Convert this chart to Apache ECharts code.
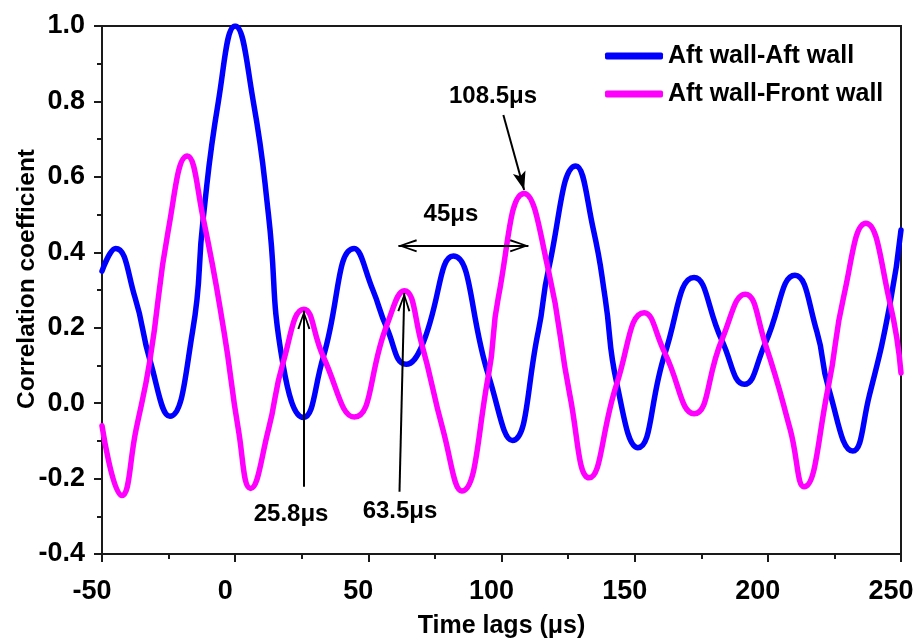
<!DOCTYPE html>
<html>
<head>
<meta charset="utf-8">
<script src="https://cdn.jsdelivr.net/npm/echarts@6/dist/echarts.min.js"></script>
<style>
  html, body { margin: 0; padding: 0; background: #fff; }
  #chart { width: 916px; height: 643px; }
</style>
</head>
<body>
<div id="chart"></div>
<script>
// Time lags (μs) and correlation values for each wall pair
const aftAftLag = [-50, -44.9, -37.6, -32, -24.5, -16, -12, -6.3, 0, 6.8, 12.5, 17.9, 25.6, 33.1, 44.7, 51.7, 56.9, 64.2, 70, 81.9, 95.1, 104.1, 113.8, 117.6, 127.9, 134.5, 138.9, 143.3, 151.2, 161.4, 172.3, 182.7, 191.2, 199, 210.2, 218.4, 222.7, 231.9, 238.1, 245.9, 250];
const aftAftCorr = [0.35, 0.41, 0.28, 0.114, -0.035, 0.19, 0.49, 0.8, 1.0, 0.8, 0.5, 0.105, -0.038, 0.123, 0.41, 0.30, 0.2, 0.103, 0.15, 0.39, 0.074, -0.099, 0.19, 0.353, 0.629, 0.46, 0.28, 0.052, -0.118, 0.132, 0.333, 0.167, 0.05, 0.158, 0.339, 0.19, 0.043, -0.127, 0.02, 0.264, 0.459];

const aftFrontLag = [-50, -42.6, -37.2, -32, -25.1, -18, -12, -4.2, 1.2, 5.8, 12.5, 17.9, 25.8, 33.1, 44.7, 56.9, 63.5, 70, 78, 85.1, 95.1, 98.8, 108.5, 117.6, 125.7, 132.9, 143.3, 153.6, 161.4, 172.3, 182.7, 191.5, 199, 208.4, 213.6, 222.7, 228.4, 236.8, 245.9, 250];
const aftFrontCorr = [-0.06, -0.245, -0.07, 0.114, 0.459, 0.655, 0.49, 0.19, -0.07, -0.226, -0.07, 0.105, 0.249, 0.123, -0.037, 0.206, 0.298, 0.158, -0.07, -0.233, 0.074, 0.28, 0.556, 0.353, 0.02, -0.198, 0.052, 0.24, 0.132, -0.028, 0.167, 0.289, 0.158, -0.07, -0.222, 0.043, 0.28, 0.477, 0.264, 0.08];

const seriesNames = ['Aft wall-Aft wall', 'Aft wall-Front wall'];

// Annotation texts and their anchor positions (data units)
const noteText = ['25.8\u03bcs', '63.5\u03bcs', '108.5\u03bcs', '45\u03bcs'];
const noteLag  = [21.0, 61.9, 96.8, 81.0];
const noteCorr = [-0.294, -0.287, 0.814, 0.501];

// Arrows: [tailLag, tailCorr, headLag, headCorr]
const arrowPeak258  = [25.8, -0.222, 25.8, 0.245];
const arrowPeak635  = [61.7, -0.235, 63.5, 0.292];
const arrowPeak1085 = [100.7, 0.764, 108.5, 0.565];
const arrowSpan45   = [61.3, 0.417, 110.1, 0.417];

const FONT = "'Liberation Sans', Arial, Helvetica, sans-serif";

// Open chevron with its tip at the symbol centre
const chevron = 'path://M0,0 L0.01,0 L0,0.01 Z M0,18 L-6.5,36 L-4.6,36.6 L0,22.6 L4.6,36.6 L6.5,36 Z';
// Solid dart head with its tip at the symbol centre
const dart = 'path://M0,0 L0.01,0 L0,0.01 Z M0,18 L-5,36 L0,32 L5,36 Z';

const pairs = (xs, ys) => xs.map((x, i) => [x, ys[i]]);

const chart = echarts.init(document.getElementById('chart'), null, { renderer: 'canvas' });

chart.setOption({
  animation: false,
  backgroundColor: '#ffffff',
  grid: {
    left: 102, right: 15, top: 26, bottom: 89,
    containLabel: false,
    outerBoundsMode: 'none',
    show: true, borderColor: '#1a1a1a', borderWidth: 2, backgroundColor: 'transparent'
  },
  legend: {
    data: seriesNames,
    orient: 'vertical',
    left: 605, top: 42,
    padding: 0,
    icon: 'roundRect',
    itemWidth: 58, itemHeight: 7,
    itemGap: 10,
    textStyle: { fontFamily: FONT, fontSize: 25, fontWeight: 'bold', color: '#000', lineHeight: 28 }
  },
  xAxis: {
    type: 'value',
    min: -50, max: 250, interval: 50,
    name: 'Time lags (\u03bcs)',
    nameLocation: 'middle',
    nameGap: 60,
    nameMoveOverlap: false,
    nameTextStyle: { fontFamily: FONT, fontSize: 25, fontWeight: 'bold', color: '#000' },
    axisLine: { show: true, onZero: false, lineStyle: { color: '#1a1a1a', width: 2 } },
    axisTick: { show: true, inside: false, length: 8, lineStyle: { color: '#1a1a1a', width: 2 } },
    minorTick: { show: true, splitNumber: 2, length: 5, lineStyle: { color: '#1a1a1a', width: 2 } },
    splitLine: { show: false },
    axisLabel: {
      margin: 24, padding: [0, 20, 0, 0],
      fontFamily: FONT, fontSize: 27, fontWeight: 'bold', color: '#000'
    }
  },
  yAxis: {
    type: 'value',
    min: -0.4, max: 1.0, interval: 0.2,
    name: 'Correlation coefficient',
    nameLocation: 'middle',
    nameRotate: 90,
    nameGap: 62,
    nameMoveOverlap: false,
    nameTextStyle: {
      fontFamily: FONT, fontSize: 24.5, fontWeight: 'bold', color: '#000',
      padding: [0, 0, 0, 22]
    },
    axisLine: { show: true, onZero: false, lineStyle: { color: '#1a1a1a', width: 2 } },
    axisTick: { show: true, inside: false, length: 8, lineStyle: { color: '#1a1a1a', width: 2 } },
    minorTick: { show: true, splitNumber: 2, length: 5, lineStyle: { color: '#1a1a1a', width: 2 } },
    splitLine: { show: false },
    axisLabel: {
      margin: 17, fontFamily: FONT, fontSize: 27, fontWeight: 'bold', color: '#000',
      formatter: v => v.toFixed(1)
    }
  },
  series: [
    {
      name: seriesNames[0],
      type: 'line',
      data: pairs(aftAftLag, aftAftCorr),
      smooth: 0.5,
      showSymbol: false,
      symbol: 'none',
      lineStyle: { color: '#0000ff', width: 5.5, cap: 'round', join: 'round' },
      itemStyle: { color: '#0000ff' },
      z: 3
    },
    {
      name: seriesNames[1],
      type: 'line',
      data: pairs(aftFrontLag, aftFrontCorr),
      smooth: 0.5,
      showSymbol: false,
      symbol: 'none',
      lineStyle: { color: '#ff00ff', width: 5.5, cap: 'round', join: 'round' },
      itemStyle: { color: '#ff00ff' },
      z: 4
    },
    {
      name: 'notes',
      type: 'scatter',
      silent: true,
      z: 6,
      symbol: 'circle',
      symbolSize: 1,
      itemStyle: { color: '#000', opacity: 0 },
      data: noteLag.map((x, i) => [x, noteCorr[i], noteText[i]]),
      label: {
        show: true,
        position: 'inside',
        opacity: 1,
        formatter: p => p.value[2],
        fontFamily: FONT, fontSize: 24, fontWeight: 'bold', color: '#000'
      },
      markLine: {
        silent: true,
        animation: false,
        symbolSize: [13, 37],
        label: { show: false },
        lineStyle: { color: '#000', width: 2, type: 'solid', opacity: 1 },
        emphasis: { disabled: true },
        data: [
          [{ coord: arrowPeak258.slice(0, 2), symbol: 'none' }, { coord: arrowPeak258.slice(2), symbol: chevron }],
          [{ coord: arrowPeak635.slice(0, 2), symbol: 'none' }, { coord: arrowPeak635.slice(2), symbol: chevron }],
          [{ coord: arrowPeak1085.slice(0, 2), symbol: 'none' }, { coord: arrowPeak1085.slice(2), symbol: dart }],
          [{ coord: arrowSpan45.slice(0, 2), symbol: chevron }, { coord: arrowSpan45.slice(2), symbol: chevron }]
        ]
      }
    }
  ]
});
</script>
</body>
</html>
